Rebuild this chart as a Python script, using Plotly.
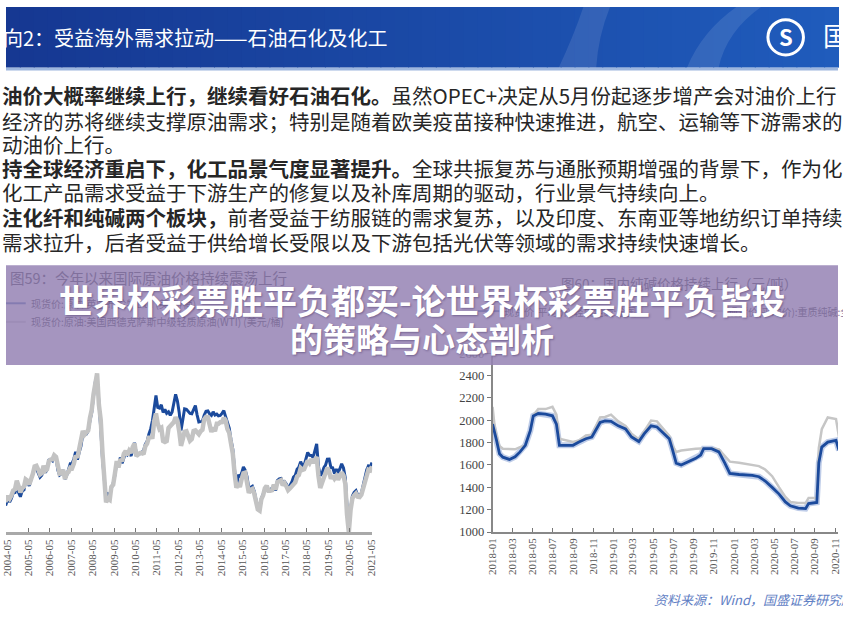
import plotly.graph_objects as go
import pandas as pd

W, H = 843, 632
def px(x): return x / W
def py(y): return 1 - y / H

# ---------------- data: left chart (monthly, USD/bbl) ----------------
oil_months = [d.strftime("%Y-%m-15") for d in pd.date_range("2004-01-01", "2021-05-01", freq="MS")]
wti = [
    34.3, 34.7, 36.7, 36.7, 40.3, 38.0, 40.7, 44.9, 45.9, 53.1, 48.5, 43.3,   # 2004
    46.8, 48.1, 54.2, 53.0, 49.8, 56.3, 58.7, 65.0, 65.6, 62.4, 58.3, 59.4,   # 2005
    65.5, 61.6, 62.7, 69.4, 70.8, 70.9, 74.4, 73.0, 63.8, 58.9, 59.1, 62.0,   # 2006
    54.5, 59.3, 60.4, 63.9, 63.5, 67.5, 74.1, 72.4, 79.9, 85.8, 94.8, 91.7,   # 2007
    93.0, 95.4, 105.5, 112.6, 125.4, 138.0, 143.0, 116.7, 104.1, 76.6, 55.0, 35.0,  # 2008
    38.0, 37.0, 47.9, 49.7, 59.0, 69.6, 64.2, 71.1, 69.4, 75.7, 78.0, 74.5,   # 2009
    78.3, 76.4, 81.2, 84.3, 73.7, 75.3, 76.3, 76.6, 75.2, 81.9, 84.3, 89.2,   # 2010
    89.6, 89.7, 102.9, 109.5, 100.9, 96.3, 97.3, 86.3, 85.5, 86.3, 97.2, 98.6,  # 2011
    100.3, 102.2, 106.2, 103.3, 94.7, 82.3, 87.9, 94.1, 94.5, 89.5, 86.5, 87.9,  # 2012
    94.8, 95.3, 92.9, 92.0, 94.5, 95.8, 104.6, 106.6, 106.3, 100.5, 93.9, 97.6,  # 2013
    94.6, 100.8, 100.8, 102.1, 102.2, 105.8, 103.6, 96.5, 93.2, 84.4, 75.8, 59.3,  # 2014
    47.2, 50.6, 47.8, 54.5, 59.3, 59.8, 50.9, 42.9, 45.5, 46.2, 42.4, 37.2,   # 2015
    29.0, 28.0, 37.5, 40.8, 46.7, 48.8, 44.7, 44.7, 45.2, 49.8, 45.7, 52.0,   # 2016
    52.5, 53.5, 49.3, 51.1, 48.5, 45.2, 46.6, 48.0, 49.8, 51.6, 56.6, 57.9,   # 2017
    63.7, 62.2, 62.7, 66.3, 70.0, 67.9, 71.0, 68.1, 70.2, 73.0, 57.0, 47.0,   # 2018
    51.4, 55.0, 58.2, 63.9, 60.8, 54.7, 57.4, 54.8, 57.0, 54.0, 57.0, 59.9,   # 2019
    57.5, 50.5, 25.0, 10.0, 28.6, 38.3, 40.7, 42.3, 39.6, 39.4, 41.4, 47.0,   # 2020
    52.0, 59.0, 62.3, 61.7, 65.2,                                             # 2021
]
brent = [
    31.2, 30.9, 33.8, 33.4, 37.9, 35.2, 38.2, 42.7, 43.2, 49.8, 43.1, 39.6,   # 2004
    44.5, 45.5, 53.1, 51.9, 48.7, 54.3, 57.5, 63.9, 63.1, 59.5, 56.0, 57.6,   # 2005
    63.1, 59.9, 62.3, 70.4, 70.9, 69.8, 74.4, 73.1, 61.9, 57.7, 58.8, 62.0,   # 2006
    54.5, 57.8, 62.1, 67.4, 67.5, 71.3, 77.2, 70.8, 77.1, 82.3, 92.5, 91.5,   # 2007
    92.2, 94.8, 103.3, 110.4, 123.9, 136.0, 140.0, 113.2, 97.2, 71.6, 52.5, 38.0,  # 2008
    42.0, 41.0, 46.8, 50.8, 57.9, 68.6, 64.9, 72.5, 67.7, 73.2, 77.0, 74.7,   # 2009
    76.2, 73.8, 78.8, 84.8, 75.9, 74.8, 75.6, 77.1, 78.2, 83.5, 86.1, 92.0,   # 2010
    96.5, 103.7, 114.6, 124.5, 114.5, 113.9, 116.7, 110.4, 112.8, 109.6, 110.8, 107.9,  # 2011
    110.7, 119.3, 125.5, 119.8, 110.3, 95.2, 102.6, 113.4, 113.0, 111.5, 109.5, 109.2,  # 2012
    112.3, 116.1, 108.5, 102.3, 102.6, 102.9, 107.9, 111.3, 111.6, 109.1, 107.8, 110.8,  # 2013
    108.1, 108.9, 107.5, 107.8, 109.5, 111.8, 106.8, 101.6, 97.1, 87.4, 79.4, 62.3,  # 2014
    47.8, 58.1, 55.9, 59.5, 64.6, 61.7, 56.5, 46.5, 47.6, 48.4, 44.3, 38.0,   # 2015
    30.0, 32.2, 38.2, 41.6, 46.9, 48.8, 44.8, 45.8, 46.6, 49.5, 44.8, 53.3,   # 2016
    54.6, 54.9, 51.6, 52.3, 50.3, 46.4, 48.5, 51.7, 56.2, 57.5, 62.7, 64.4,   # 2017
    69.1, 65.3, 66.0, 72.1, 76.7, 74.4, 74.3, 72.5, 78.9, 84.0, 64.8, 57.4,   # 2018
    59.4, 64.0, 66.1, 71.2, 71.3, 64.2, 63.9, 59.0, 62.8, 59.7, 63.2, 67.3,   # 2019
    63.7, 55.5, 32.0, 20.0, 29.4, 40.3, 43.2, 44.7, 40.9, 40.2, 42.7, 49.9,   # 2020
    54.8, 62.3, 65.4, 64.8, 68.3,                                             # 2021
]
oil_tick_years = list(range(2004, 2022))

# ---------------- data: right chart (soda ash, CNY/t) ----------------
soda_dates = [
    "2018-01-01", "2018-01-07", "2018-01-13", "2018-01-22", "2018-02-01", "2018-02-21",
    "2018-03-10", "2018-03-25", "2018-04-10", "2018-04-25", "2018-05-04", "2018-05-19",
    "2018-06-10", "2018-07-01", "2018-07-13", "2018-07-22", "2018-09-01", "2018-09-19",
    "2018-10-10", "2018-10-28", "2018-11-07", "2018-11-22", "2018-12-07", "2018-12-25",
    "2019-01-16", "2019-02-07", "2019-02-25", "2019-03-19", "2019-04-04", "2019-04-25",
    "2019-05-13", "2019-06-04", "2019-06-19", "2019-06-28", "2019-07-10", "2019-07-25",
    "2019-08-16", "2019-09-07", "2019-09-22", "2019-10-01", "2019-10-25", "2019-11-16",
    "2019-12-04", "2019-12-19", "2020-01-16", "2020-02-25", "2020-03-16", "2020-04-04",
    "2020-04-25", "2020-05-16", "2020-06-04", "2020-06-19", "2020-07-13", "2020-08-04",
    "2020-08-13", "2020-09-07", "2020-09-13", "2020-09-22", "2020-10-10", "2020-11-04",
    "2020-11-13",
]
soda_light = [
    1965, 1900, 1820, 1700, 1670, 1650, 1674, 1717, 1776, 1907, 2039, 2060,
    2055, 2040, 1965, 1776, 1776, 1805, 1835, 1850, 1907, 1980, 1995, 1990,
    1950, 1922, 1850, 1810, 1878, 1950, 1940, 1878, 1835, 1746, 1617, 1600,
    1630, 1660, 1690, 1746, 1746, 1717, 1617, 1525, 1515, 1507, 1495, 1457,
    1400, 1340, 1270, 1235, 1215, 1210, 1255, 1265, 1620, 1760, 1805, 1820,
    1730,
]
soda_heavy = [
    2120, 1950, 1860, 1770, 1746, 1740, 1740, 1760, 1776, 1907, 2045, 2100,
    2100, 2120, 2050, 1835, 1805, 1820, 1865, 1870, 1930, 2025, 2030, 2050,
    1990, 1950, 1880, 1830, 1900, 1997, 1990, 1910, 1860, 1776, 1717, 1730,
    1740, 1745, 1748, 1750, 1750, 1740, 1675, 1630, 1620, 1600, 1590, 1560,
    1500, 1400, 1315, 1270, 1260, 1260, 1305, 1305, 1750, 1920, 2025, 2010,
    1850,
]
soda_ticks = [d.strftime("%Y-%m") for d in pd.date_range("2018-01-01", "2020-11-01", freq="2MS")]
soda_yticks = [1000, 1200, 1400, 1600, 1800, 2000, 2200, 2400, 2600]

assert len(wti) == len(oil_months) == len(brent)
assert len(soda_dates) == len(soda_light) == len(soda_heavy)

CJK = "Noto Sans CJK SC"
SERIF = "Liberation Serif"
BLUE = "#1b4a9c"
GRAY = "#c3c3c3"

fig = go.Figure()
# left chart: Brent below, WTI on top
fig.add_trace(go.Scatter(x=oil_months, y=brent, mode="lines", line=dict(color=BLUE, width=3),
                         xaxis="x", yaxis="y", showlegend=False))
fig.add_trace(go.Scatter(x=oil_months, y=wti, mode="lines", line=dict(color=GRAY, width=4.5),
                         xaxis="x", yaxis="y", showlegend=False))
# right chart
fig.add_trace(go.Scatter(x=soda_dates, y=soda_light, mode="lines", line=dict(color="rgba(70,110,190,0.35)", width=6),
                         xaxis="x2", yaxis="y2", showlegend=False, hoverinfo="skip"))
fig.add_trace(go.Scatter(x=soda_dates, y=soda_heavy, mode="lines", line=dict(color="#c6c6c6", width=2.5),
                         xaxis="x2", yaxis="y2", showlegend=False))
fig.add_trace(go.Scatter(x=soda_dates, y=soda_light, mode="lines", line=dict(color=BLUE, width=2.8),
                         xaxis="x2", yaxis="y2", showlegend=False))

ydom = [py(537), py(354)]
fig.update_layout(
    width=W, height=H, margin=dict(l=0, r=0, t=0, b=0),
    paper_bgcolor="white", plot_bgcolor="rgba(0,0,0,0)",
    xaxis=dict(domain=[0, px(371)], type="date", range=["2004-04-14", "2021-05-18"],
               tickvals=[f"{y}-05-01" for y in oil_tick_years],
               ticktext=[f"{y}-05" for y in oil_tick_years],
               tickangle=-90, ticks="inside", ticklen=4, tickcolor="#777", tickwidth=1,
               showline=True, linecolor="#a9a9a9", linewidth=3, showgrid=False, zeroline=False,
               tickfont=dict(family=SERIF, size=11, color="#555")),
    yaxis=dict(domain=ydom, range=[10, 160], visible=False),
    xaxis2=dict(domain=[px(493), 1.0], type="date", range=["2018-01-01", "2020-11-10"], anchor="y2",
                tickvals=[t + "-01" for t in soda_ticks], ticktext=soda_ticks,
                tickangle=-90, ticks="inside", ticklen=4, tickcolor="#777", tickwidth=1,
                showline=True, linecolor="#888", linewidth=1.5, showgrid=False, zeroline=False,
                tickfont=dict(family=SERIF, size=11, color="#555")),
    yaxis2=dict(domain=ydom, range=[1000, 2600], anchor="x2",
                tickvals=soda_yticks, ticks="outside", ticklen=4, tickcolor="#777",
                showline=True, linecolor="#888", linewidth=1.5, showgrid=False, zeroline=False,
                tickfont=dict(family=SERIF, size=12.5, color="#444")),
)

shapes = []
# header gradient band
N = 60
c0, c1 = (22, 56, 146), (32, 92, 188)
for i in range(N):
    t = i / (N - 1)
    col = tuple(int(c0[k] + (c1[k] - c0[k]) * t) for k in range(3))
    shapes.append(dict(type="rect", xref="paper", yref="paper",
                       x0=px(i * W / N), x1=px((i + 1) * W / N + 1), y0=py(62), y1=1,
                       fillcolor=f"rgb{col}", line=dict(width=0), layer="above"))
# decorative light bands in header
shapes.append(dict(type="path", xref="paper", yref="paper",
                   path=f"M {px(560)} {py(62)} Q {px(575)} {py(30)} {px(585)} {py(0)} L {px(612)} {py(0)} Q {px(600)} {py(30)} {px(598)} {py(62)} Z",
                   fillcolor="rgba(255,255,255,0.10)", line=dict(width=0), layer="above"))
shapes.append(dict(type="path", xref="paper", yref="paper",
                   path=f"M {px(690)} {py(62)} Q {px(705)} {py(25)} {px(740)} {py(0)} L {px(765)} {py(0)} Q {px(730)} {py(25)} {px(722)} {py(62)} Z",
                   fillcolor="rgba(255,255,255,0.10)", line=dict(width=0), layer="above"))
shapes.append(dict(type="rect", xref="paper", yref="paper", x0=0, x1=1, y0=py(65), y1=py(62),
                   fillcolor="#9db6de", line=dict(width=0), layer="above"))
# logo ring
shapes.append(dict(type="circle", xref="paper", yref="paper",
                   x0=px(772), x1=px(808), y0=py(49), y1=py(13),
                   line=dict(color="white", width=3), layer="above"))
# legend line samples (behind banner)
shapes.append(dict(type="line", xref="paper", yref="paper", x0=0, x1=px(20), y0=py(303), y1=py(303),
                   line=dict(color=BLUE, width=2), layer="above"))
shapes.append(dict(type="line", xref="paper", yref="paper", x0=0, x1=px(20), y0=py(322), y1=py(322),
                   line=dict(color=GRAY, width=2), layer="above"))
shapes.append(dict(type="line", xref="paper", yref="paper", x0=px(478), x1=px(500), y0=py(311), y1=py(311),
                   line=dict(color=BLUE, width=2), layer="above"))
shapes.append(dict(type="line", xref="paper", yref="paper", x0=px(705), x1=px(727), y0=py(311), y1=py(311),
                   line=dict(color=GRAY, width=2), layer="above"))
# purple banner
shapes.append(dict(type="rect", xref="paper", yref="paper", x0=0, x1=1, y0=py(366), y1=py(264),
                   fillcolor="rgba(150,132,180,0.86)", line=dict(width=0), layer="above"))
fig.update_layout(shapes=shapes)

ann = []
def text(x, y, s, size, color, family=CJK, anchor="left", **kw):
    ann.append(dict(x=px(x), y=py(y), xref="paper", yref="paper", text=s, showarrow=False,
                    xanchor=anchor, yanchor="middle", font=dict(size=size, color=color, family=family, **kw)))

# header
text(-5, 31, "向2：受益海外需求拉动——石油石化及化工", 20, "white")
text(790, 30, "<b>S</b>", 22, "white", anchor="center")
text(826, 28, "国", 26, "white")

# body text
BODY = "#262626"
body_lines = [
    (90, "<b>油价大概率继续上行，继续看好石油石化。</b>虽然OPEC+决定从5月份起逐步增产会对油价上行"),
    (117, "经济的苏将继续支撑原油需求；特别是随着欧美疫苗接种快速推进，航空、运输等下游需求的"),
    (140, "动油价上行。"),
    (165, "<b>持全球经济重启下，化工品景气度显著提升。</b>全球共振复苏与通胀预期增强的背景下，作为化"),
    (189, "化工产品需求受益于下游生产的修复以及补库周期的驱动，行业景气持续向上。"),
    (215, "<b>注化纤和纯碱两个板块，</b>前者受益于纺服链的需求复苏，以及印度、东南亚等地纺织订单持续"),
    (240, "需求拉升，后者受益于供给增长受限以及下游包括光伏等领域的需求持续快速增长。"),
]
for y, s in body_lines:
    text(-6, y, s, 20.5, BODY)

# chart titles / legends seen through the banner
FADE = "rgb(128,112,156)"
text(2, 277, "图59：今年以来国际原油价格持续震荡上行", 14.5, FADE)
text(23, 303, "现货价:原油:英国布伦特Dtd (美元/桶)", 10, FADE)
text(23, 322, "现货价:原油:美国西德克萨斯中级轻质原油(WTI) (美元/桶)", 10, FADE)
text(560, 282, "图60：国内纯碱价格持续上行（元/吨）", 13.5, FADE)
text(503, 311, "现货价(平均价):轻质纯碱:全国", 10, FADE)
text(730, 311, "现货价(平均价):重质纯碱:全国", 10, FADE)

# banner title
ann.append(dict(x=0.5, y=py(299), xref="paper", yref="paper", showarrow=False, xanchor="center", yanchor="middle",
                text="<b>世界杯彩票胜平负都买-论世界杯彩票胜平负皆投</b>",
                font=dict(size=34, color="white", family=CJK, shadow="1px 1px 2px rgba(60,40,90,0.45)")))
ann.append(dict(x=0.5, y=py(338), xref="paper", yref="paper", showarrow=False, xanchor="center", yanchor="middle",
                text="<b>的策略与心态剖析</b>",
                font=dict(size=33, color="white", family=CJK, shadow="1px 1px 2px rgba(60,40,90,0.45)")))

# source
text(655, 606, "资料来源：Wind，国盛证券研究所", 13, "rgb(95,128,196)", style="italic")

fig.update_layout(annotations=ann)
fig.write_html("out.html", config={"displayModeBar": False},
               post_script="document.body.style.margin='0';document.body.style.padding='0';document.body.style.overflow='hidden';")
